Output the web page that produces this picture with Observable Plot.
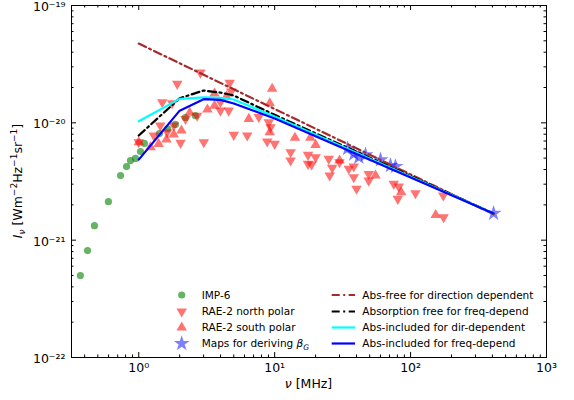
<!DOCTYPE html>
<html><head><meta charset="utf-8">
<script src="https://cdn.jsdelivr.net/npm/d3@7"></script>
<script src="https://cdn.jsdelivr.net/npm/@observablehq/plot@0.6"></script>
<style>
body{margin:0;background:#fff;}
#wrap{position:relative;width:574px;height:400px;}
</style></head><body><div id="wrap"></div>
<script>
// ---- data (frequency in MHz, intensity in W m^-2 Hz^-1 sr^-1) ----
const imp6Freq = [0.372,0.42,0.472,0.598,0.734,0.813,0.869,0.946,1.03,1.10,1.42,1.63,1.86,2.2,2.61];
const imp6I    = [5.0e-22,8.15e-22,1.33e-21,2.13e-21,3.55e-21,4.24e-21,4.77e-21,4.97e-21,5.7e-21,6.67e-21,8.1e-21,8.9e-21,9.7e-21,1.11e-20,1.15e-20];

const northFreq = [2.84,1.92,4.67,4.79,1.49,1.76,3.99,3.99,4.59,2.21,2.69,1.44,1.81,1.62,1.29,2.03,3.01,5.0,6.28,7.64,9.05,9.32,8.81,10.0,1.0,13.1,13.1,17.6,17.6,18.7,20.0,25.0,26.5,25.4,30.0,35.1,38.2,38.2,40.0,49.2,49.2,75.2,81.8,80.5,108.6,174,175];
const northI    = [2.68e-20,2.15e-20,2.19e-20,1.85e-20,1.50e-20,1.47e-20,1.50e-20,1.27e-20,1.27e-20,1.08e-20,1.15e-20,9.48e-21,9.48e-21,8.32e-21,7.79e-21,6.75e-21,6.84e-21,7.9e-21,7.79e-21,1.12e-20,1.01e-20,9.17e-21,6.93e-21,6.62e-21,6.84e-21,5.62e-21,4.77e-21,5.33e-21,4.47e-21,4.41e-21,5.09e-21,4.93e-21,4.13e-21,3.56e-21,4.61e-21,4.06e-21,4.24e-21,3.44e-21,2.74e-21,3.67e-21,3.22e-21,3.02e-21,2.86e-21,2.25e-21,2.51e-21,2.40e-21,1.57e-21];

const southFreq = [9.58,9.2,9.2,14.1,18.3,20.0,55.2,85.3,153,30.0,6.45,1.40,1.22,1.81,2.37,3.2,3.61,4.42,3.61,2.06,1.6,1.0];
const southI    = [1.95e-20,1.47e-20,8.32e-21,7.45e-21,7.45e-21,6.49e-21,3.56e-21,2.56e-21,1.64e-21,4.77e-21,1.08e-20,6.62e-21,6.19e-21,7.94e-21,1.22e-20,1.30e-20,1.40e-20,1.68e-20,1.78e-20,8.6e-21,7.21e-21,6.84e-21];

const mapFreq = [34.4,38.2,41.6,46.6,60.1,71.1,77.4,408];
const mapI    = [6.04e-21,5.42e-21,5.09e-21,5.33e-21,4.84e-21,4.33e-21,4.24e-21,1.69e-21];

const absFreeDirFreq = [1, 408];
const absFreeDirI    = [4.74e-20, 1.66e-21];
const modelFreq      = [1, 2, 3, 4, 5, 10, 408];
const absFreeFreqI   = [7.8e-21,1.62e-20,1.885e-20,1.81e-20,1.71e-20,1.17e-20,1.69e-21];
const absInclDirI    = [1.03e-20,1.60e-20,1.65e-20,1.63e-20,1.58e-20,1.13e-20,1.69e-21];
const absInclFreqI   = [4.86e-21,1.27e-20,1.59e-20,1.57e-20,1.46e-20,1.09e-20,1.69e-21];

const xMajor = [1, 10, 100, 1000];
const yMajor = [1e-22, 1e-21, 1e-20, 1e-19];

// ---- build tables ----
const zip = (a, b) => a.map((f, i) => ({f, I: b[i]}));
const imp6 = zip(imp6Freq, imp6I);
const north = zip(northFreq, northI);
const south = zip(southFreq, southI);
const maps = zip(mapFreq, mapI);
const brown = zip(absFreeDirFreq, absFreeDirI);
const black = zip(modelFreq, absFreeFreqI);
const cyan = zip(modelFreq, absInclDirI);
const blue = zip(modelFreq, absInclFreqI);

const minorOf = (lo, hi) => { const out = []; for (let e = lo; e < hi; e++) for (let k = 2; k <= 9; k++) out.push(k * Math.pow(10, e)); return out; };
const xMinor = minorOf(-1, 3).filter(v => v >= 0.32 && v <= 1000);
const yMinor = minorOf(-22, -19).map(v => +v.toPrecision(3));

const sup = {"0":"⁰","1":"¹","2":"²","3":"³","4":"⁴","5":"⁵","6":"⁶","7":"⁷","8":"⁸","9":"⁹","-":"⁻"};
const fmt = d => "10" + String(Math.round(Math.log10(d))).split("").map(c => sup[c]).join("");

const W = 574, H = 400, mL = 71, mR = 28, mT = 5, mB = 43;
const iw = W - mL - mR, ih = H - mT - mB;
const dashDot = "8,3.5,2,3.5";
const rCirc = 3.6, rTri = 3.9, rStar = 5;

const chart = Plot.plot({
  width: W, height: H,
  marginLeft: mL, marginRight: mR, marginTop: mT, marginBottom: mB,
  style: {fontFamily: "DejaVu Sans", fontSize: "12px", background: "white", color: "black", overflow: "visible"},
  x: {type: "log", domain: [0.32, 1000]},
  y: {type: "log", domain: [1e-22, 1e-19]},
  marks: [
    Plot.dot(imp6, {x: "f", y: "I", r: rCirc, fill: "green", fillOpacity: 0.6, stroke: null}),
    Plot.dot(north, {x: "f", y: "I", symbol: "triangle", rotate: 180, r: rTri, fill: "red", fillOpacity: 0.55, stroke: null}),
    Plot.dot(south, {x: "f", y: "I", symbol: "triangle", r: rTri, fill: "red", fillOpacity: 0.55, stroke: null}),
    Plot.dot(maps, {x: "f", y: "I", symbol: "star", r: rStar, fill: "blue", fillOpacity: 0.5, stroke: null}),
    Plot.line(brown, {x: "f", y: "I", stroke: "brown", strokeWidth: 2.2, strokeDasharray: dashDot}),
    Plot.line(black, {x: "f", y: "I", stroke: "black", strokeWidth: 2.2, strokeDasharray: dashDot}),
    Plot.line(cyan, {x: "f", y: "I", stroke: "cyan", strokeWidth: 2.2}),
    Plot.line(blue, {x: "f", y: "I", stroke: "blue", strokeWidth: 2.2}),
    // inward ticks on all four sides
    Plot.ruleX(xMajor, {x: d => d, insetTop: ih - 5, stroke: "black"}),
    Plot.ruleX(xMajor, {x: d => d, insetBottom: ih - 5, stroke: "black"}),
    Plot.ruleX(xMinor, {x: d => d, insetTop: ih - 2.5, stroke: "black"}),
    Plot.ruleX(xMinor, {x: d => d, insetBottom: ih - 2.5, stroke: "black"}),
    Plot.ruleY(yMajor, {y: d => d, insetRight: iw - 5, stroke: "black"}),
    Plot.ruleY(yMajor, {y: d => d, insetLeft: iw - 5, stroke: "black"}),
    Plot.ruleY(yMinor, {y: d => d, insetRight: iw - 2.5, stroke: "black"}),
    Plot.ruleY(yMinor, {y: d => d, insetLeft: iw - 2.5, stroke: "black"}),
    Plot.axisX(xMajor, {tickSize: 0, tickPadding: 6, tickFormat: fmt, label: null, fontSize: 12.5}),
    Plot.axisY(yMajor, {tickSize: 0, tickPadding: 6, tickFormat: fmt, label: null, fontSize: 12.5, dy: 1.5}),
    Plot.frame({stroke: "black", strokeWidth: 1})
  ]
});
document.getElementById("wrap").appendChild(chart);

// ---- axis titles & legend (real text) ----
const svg = d3.select(chart);
const g = svg.append("g").attr("font-family", "DejaVu Sans").attr("fill", "black");

g.append("text").attr("x", mL + iw / 2).attr("y", 388).attr("text-anchor", "middle").attr("font-size", 12.5)
  .call(t => { t.append("tspan").attr("font-style", "italic").text("ν"); t.append("tspan").text(" [MHz]"); });

const yl = g.append("text").attr("transform", `translate(22,${mT + ih / 2}) rotate(-90)`).attr("text-anchor", "middle").attr("font-size", 12.5);
yl.append("tspan").attr("font-style", "italic").text("I");
yl.append("tspan").attr("font-style", "italic").attr("font-size", 9).attr("dy", 3).text("ν");
yl.append("tspan").attr("dy", -3).text(" [Wm");
yl.append("tspan").attr("font-size", 9).attr("dy", -5).text("−2");
yl.append("tspan").attr("dy", 5).text("Hz");
yl.append("tspan").attr("font-size", 9).attr("dy", -5).text("−1");
yl.append("tspan").attr("dy", 5).text("sr");
yl.append("tspan").attr("font-size", 9).attr("dy", -5).text("−1");
yl.append("tspan").attr("dy", 5).text("]");

const legRows = [295, 311.5, 327.5, 343.5];
const lg = g.append("g").attr("font-size", 10.5).attr("text-anchor", "start");
const sym = (type, r) => d3.symbol(type, Math.PI * r * r)();
const markers = [
  {d: sym(d3.symbolCircle, rCirc), fill: "green", op: 0.6, rot: 0, label: "IMP-6"},
  {d: sym(d3.symbolTriangle, rTri), fill: "red", op: 0.55, rot: 180, label: "RAE-2 north polar"},
  {d: sym(d3.symbolTriangle, rTri), fill: "red", op: 0.55, rot: 0, label: "RAE-2 south polar"},
  {d: sym(d3.symbolStar, rStar), fill: "blue", op: 0.5, rot: 0, label: null}
];
markers.forEach((m, i) => {
  lg.append("path").attr("d", m.d).attr("fill", m.fill).attr("fill-opacity", m.op)
    .attr("transform", `translate(181.7,${legRows[i]}) rotate(${m.rot})`);
  const t = lg.append("text").attr("x", 201.7).attr("y", legRows[i]).attr("dy", "0.35em").attr("text-anchor", "start");
  if (m.label) t.text(m.label);
  else {
    t.append("tspan").text("Maps for deriving ");
    t.append("tspan").attr("font-style", "italic").text("β");
    t.append("tspan").attr("font-style", "italic").attr("font-size", 7.5).attr("dy", 2.5).text("G");
  }
});
const lineLeg = [
  {stroke: "brown", dash: dashDot, label: "Abs-free for direction dependent"},
  {stroke: "black", dash: dashDot, label: "Absorption free for freq-depend"},
  {stroke: "cyan", dash: null, label: "Abs-included for dir-dependent"},
  {stroke: "blue", dash: null, label: "Abs-included for freq-depend"}
];
lineLeg.forEach((l, i) => {
  lg.append("line").attr("x1", 331.7).attr("x2", 355).attr("y1", legRows[i]).attr("y2", legRows[i])
    .attr("stroke", l.stroke).attr("stroke-width", 2.2).attr("stroke-dasharray", l.dash);
  lg.append("text").attr("x", 362.3).attr("y", legRows[i]).attr("dy", "0.35em").attr("text-anchor", "start").text(l.label);
});
</script>
</body></html>
